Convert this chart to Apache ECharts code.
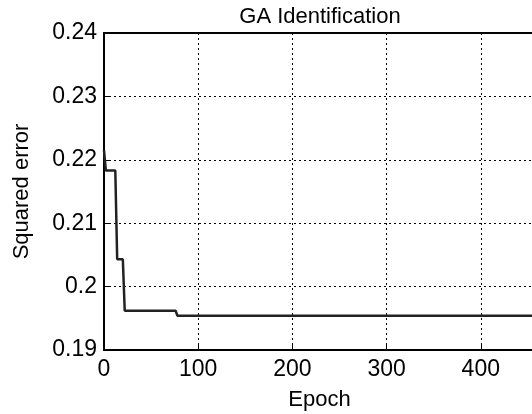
<!DOCTYPE html>
<html><head><meta charset="utf-8">
<script src="https://cdn.jsdelivr.net/npm/echarts@6/dist/echarts.min.js"></script>
<style>html,body{margin:0;padding:0;background:#fff}#c{width:532px;height:414px}</style>
</head><body><div id="c"></div>
<script>
const epochs = [0, 2, 12, 14, 20, 22, 76, 78, 500];
const sqError = [0.2215, 0.2183, 0.2183, 0.2043, 0.2043, 0.1962, 0.1962, 0.1954, 0.1954];
const titleText = 'GA Identification';
const xName = 'Epoch';
const yName = 'Squared error';

const chart = echarts.init(document.getElementById('c'), null, {renderer: 'canvas'});
const font = 'Liberation Sans, Arial, sans-serif';
const gridLine = {show: true, lineStyle: {color: '#000', type: [2, 3], width: 1}};
chart.setOption({
  animation: false,
  title: {text: titleText, left: 315, top: 1, textAlign: 'center',
    textStyle: {fontFamily: font, fontSize: 22, fontWeight: 'normal', color: '#000'}},
  grid: {left: 104, top: 33, height: 317, width: 471, containLabel: false, outerBoundsMode: 'none',
    show: true, borderColor: '#000', borderWidth: 2, backgroundColor: '#fff'},
  xAxis: {type: 'value', min: 0, max: 500, interval: 100,
    name: xName, nameLocation: 'middle', nameGap: 39,
    nameTextStyle: {fontFamily: font, fontSize: 22, color: '#000', padding: [0, 40, 0, 0]},
    axisLine: {lineStyle: {color: '#000', width: 2}},
    axisTick: {inside: true, length: 5, lineStyle: {color: '#000'}},
    axisLabel: {fontFamily: font, fontSize: 23, color: '#000', margin: 8},
    splitLine: gridLine},
  yAxis: {type: 'value', min: 0.19, max: 0.24, interval: 0.01,
    name: yName, nameLocation: 'middle', nameGap: 71,
    nameTextStyle: {fontFamily: font, fontSize: 22, color: '#000'},
    axisLine: {lineStyle: {color: '#000', width: 2}},
    axisTick: {inside: true, length: 5, lineStyle: {color: '#000'}},
    axisLabel: {fontFamily: font, fontSize: 23, color: '#000', margin: 7,
      formatter: v => String(+v.toFixed(2))},
    splitLine: gridLine},
  series: [{type: 'line', data: epochs.map((e, i) => [e, sqError[i]]),
    showSymbol: false, lineStyle: {color: '#222', width: 2.5}, z: 5}]
});
</script></body></html>
